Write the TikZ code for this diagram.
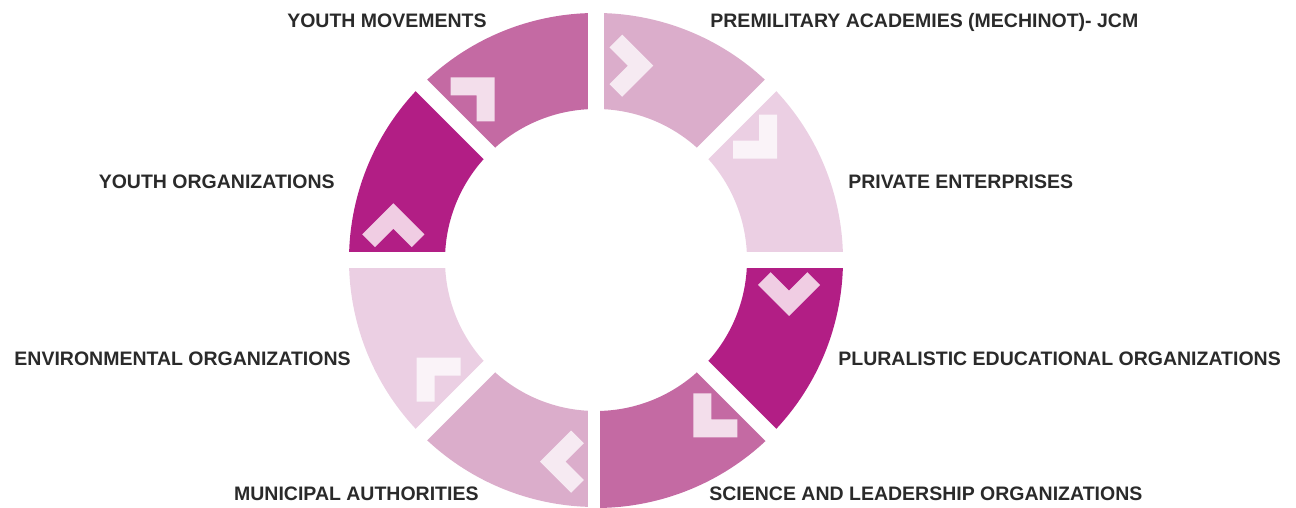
\documentclass[tikz,border=0pt]{standalone}
\usepackage{fontspec}
\setmainfont{Liberation Sans}
\usepackage{tikz}

\definecolor{ringdark}{HTML}{B21E85}
\definecolor{ringmid}{HTML}{C46AA3}
\definecolor{ringlight}{HTML}{DBADCB}
\definecolor{ringpale}{HTML}{EBCFE3}
\definecolor{chevdark}{HTML}{F0CDE3}
\definecolor{chevmid}{HTML}{F3DEEB}
\definecolor{chevlight}{HTML}{F6EAF2}
\definecolor{chevpale}{HTML}{FAF3F8}
\definecolor{labelgray}{HTML}{2A2A2A}

\begin{document}
\begin{tikzpicture}[x=0.5pt,y=0.5pt,
  chev/.pic={\fill (0,0) -- (0,-44) -- (-18,-44) -- (-18,-18) -- (-44,-18) -- (-44,0) -- cycle;},
  gap/.style={white, line width=8pt}]
\useasboundingbox (0,0) rectangle (1296,508);

% ring
\begin{scope}[shift={(596,248)}]
\fill[ringlight] (45:247) arc[start angle=45, end angle=90, radius=247] -- (90:151) arc[start angle=90, end angle=45, radius=151] -- cycle;
\fill[ringpale] (0:247) arc[start angle=0, end angle=45, radius=247] -- (45:151) arc[start angle=45, end angle=0, radius=151] -- cycle;
\fill[ringdark] (-45:247) arc[start angle=-45, end angle=0, radius=247] -- (0:151) arc[start angle=0, end angle=-45, radius=151] -- cycle;
\fill[ringmid] (-90:248) arc[start angle=-90, end angle=-45, radius=248] -- (-45:151) arc[start angle=-45, end angle=-90, radius=151] -- cycle;
\fill[ringlight] (-135:247) arc[start angle=-135, end angle=-90, radius=247] -- (-90:151) arc[start angle=-90, end angle=-135, radius=151] -- cycle;
\fill[ringpale] (180:247) arc[start angle=180, end angle=225, radius=247] -- (225:151) arc[start angle=225, end angle=180, radius=151] -- cycle;
\fill[ringdark] (135:247) arc[start angle=135, end angle=180, radius=247] -- (180:151) arc[start angle=180, end angle=135, radius=151] -- cycle;
\fill[ringmid] (90:247) arc[start angle=90, end angle=135, radius=247] -- (135:151) arc[start angle=135, end angle=90, radius=151] -- cycle;

\draw[gap] (0:262) -- (180:262);
\draw[gap] (45:262) -- (225:262);
\draw[gap] (0,262) -- (0,0);
\draw[gap, line width=6pt] (-2,0) -- (-2,-262);
\draw[gap] (135:262) -- (315:262);
\end{scope}

% chevrons, clockwise
\pic[fill=chevlight, rotate=-45] at (653.3,442.3) {chev};
\pic[fill=chevpale, rotate=-90] at (777,349.3) {chev};
\pic[fill=chevdark, rotate=-135] at (789,192) {chev};
\pic[fill=chevmid, rotate=180] at (693.3,70.7) {chev};
\pic[fill=chevlight, rotate=135] at (540,46.3) {chev};
\pic[fill=chevpale, rotate=90] at (416.7,150.3) {chev};
\pic[fill=chevdark, rotate=45] at (393.3,304.7) {chev};
\pic[fill=chevmid] at (494.7,430.7) {chev};

% labels
\begin{scope}[every node/.style={inner sep=0pt, text=labelgray, font=\bfseries\fontsize{9.75}{12}\selectfont}]
\node[anchor=base east] (youthmov) at (487,480) {YOUTH MOVEMENTS};
\node[anchor=base west] (premil) at (710,480) {PREMILITARY ACADEMIES (MECHINOT)- JCM};
\node[anchor=base east] (youthorg) at (335,319) {YOUTH ORGANIZATIONS};
\node[anchor=base west] (private) at (848,319) {PRIVATE ENTERPRISES};
\node[anchor=base east] (environ) at (351,142) {ENVIRONMENTAL ORGANIZATIONS};
\node[anchor=base west] (plural) at (838,142) {PLURALISTIC EDUCATIONAL ORGANIZATIONS};
\node[anchor=base east] (municip) at (479,7) {MUNICIPAL AUTHORITIES};
\node[anchor=base west] (science) at (709,7) {SCIENCE AND LEADERSHIP ORGANIZATIONS};
\end{scope}

\end{tikzpicture}
\end{document}
